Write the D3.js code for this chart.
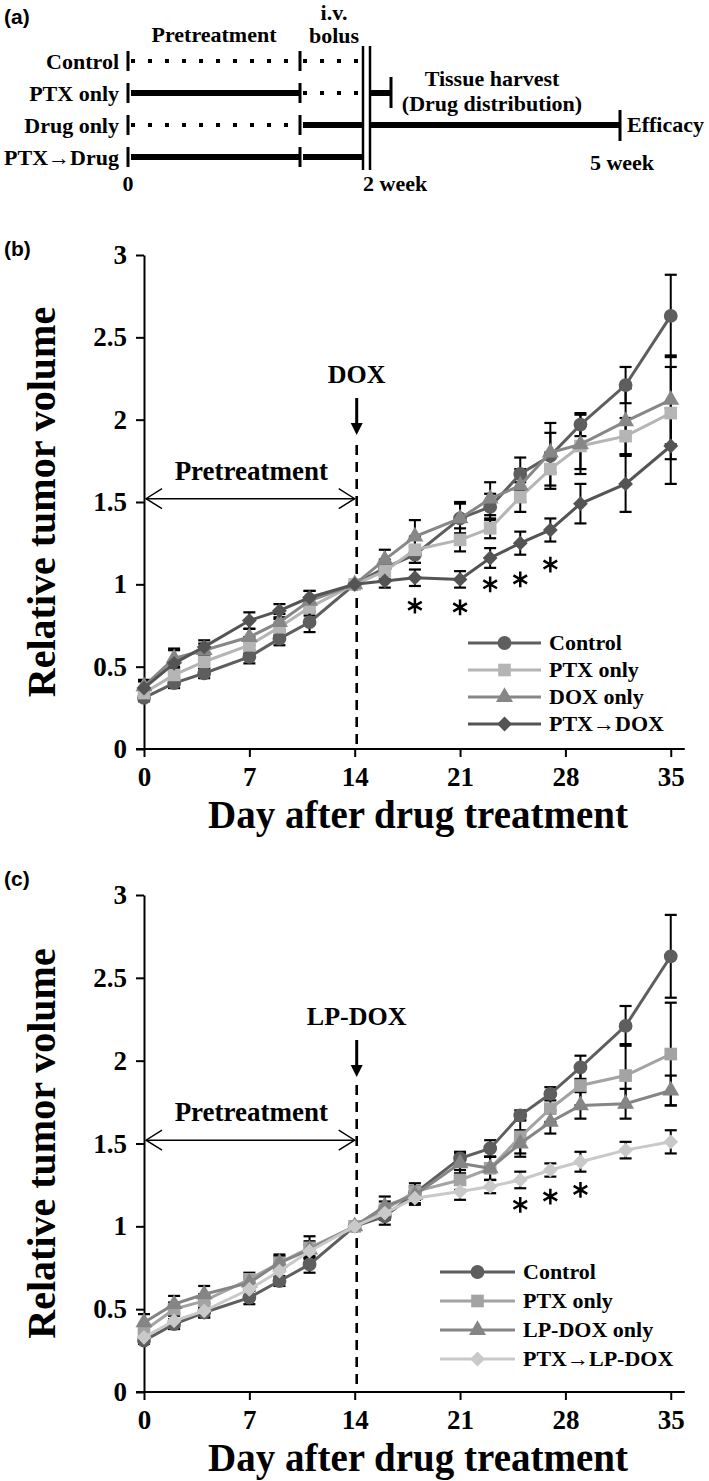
<!DOCTYPE html>
<html><head><meta charset="utf-8">
<script src="https://cdn.jsdelivr.net/npm/d3@7"></script>
<style>body{margin:0;background:#fff}svg{display:block}</style>
</head><body>
<svg id="chart" width="709" height="1481"></svg>
<script>
// ---------- DATA ----------
const days = [0, 2, 4, 7, 9, 11, 14, 16, 18, 21, 23, 25, 27, 29, 32, 35];
const xTicks = [0, 7, 14, 21, 28, 35];
const yTicks = [0, 0.5, 1, 1.5, 2, 2.5, 3];

// panel (b)
const bNames = ["Control", "PTX only", "DOX only", "PTX\u2192DOX"];
const bControl = [0.31, 0.40, 0.46, 0.56, 0.67, 0.77, 1.00, 1.10, 1.18, 1.40, 1.47, 1.67, 1.78, 1.97, 2.21, 2.63];
const bControlErr = [0.02, 0.03, 0.03, 0.04, 0.04, 0.06, 0, 0.05, 0.05, 0.09, 0.08, 0.10, 0.20, 0.07, 0.11, 0.25];
const bPTX = [0.34, 0.45, 0.53, 0.63, 0.74, 0.86, 1.00, 1.08, 1.21, 1.27, 1.34, 1.53, 1.70, 1.84, 1.90, 2.04];
const bPTXErr = [0.03, 0.04, 0.04, 0.05, 0.05, 0.05, 0, 0.05, 0.08, 0.07, 0.06, 0.09, 0.10, 0.14, 0.11, 0.28];
const bDOX = [0.38, 0.55, 0.60, 0.68, 0.77, 0.90, 1.00, 1.15, 1.29, 1.40, 1.52, 1.60, 1.80, 1.85, 1.99, 2.12];
const bDOXErr = [0.04, 0.05, 0.04, 0.05, 0.05, 0.06, 0, 0.06, 0.10, 0.10, 0.10, 0.10, 0.12, 0.18, 0.20, 0.27];
const bPTXDOX = [0.37, 0.52, 0.62, 0.78, 0.84, 0.92, 1.00, 1.02, 1.04, 1.03, 1.16, 1.25, 1.33, 1.49, 1.61, 1.84];
const bPTXDOXErr = [0.04, 0.09, 0.04, 0.05, 0.04, 0.04, 0, 0.04, 0.05, 0.05, 0.06, 0.07, 0.07, 0.12, 0.17, 0.23];
const bStarDays = [18, 21, 23, 25, 27];
const bStarVals = [0.87, 0.86, 1.00, 1.03, 1.12];

// panel (c)
const cNames = ["Control", "PTX only", "LP-DOX only", "PTX\u2192LP-DOX"];
const cControl = [0.31, 0.41, 0.48, 0.57, 0.67, 0.77, 1.00, 1.06, 1.20, 1.41, 1.47, 1.67, 1.80, 1.96, 2.21, 2.63];
const cControlErr = [0.02, 0.03, 0.03, 0.04, 0.03, 0.05, 0, 0.05, 0.04, 0.04, 0.05, 0.03, 0.04, 0.07, 0.12, 0.25];
const cPTX = [0.37, 0.50, 0.55, 0.68, 0.78, 0.87, 1.00, 1.10, 1.21, 1.28, 1.35, 1.54, 1.71, 1.85, 1.91, 2.04];
const cPTXErr = [0.03, 0.04, 0.04, 0.04, 0.04, 0.07, 0, 0.05, 0.05, 0.06, 0.07, 0.10, 0.08, 0.12, 0.19, 0.31];
const cLPDOX = [0.42, 0.53, 0.59, 0.66, 0.78, 0.86, 1.00, 1.12, 1.19, 1.38, 1.35, 1.50, 1.63, 1.73, 1.74, 1.82];
const cLPDOXErr = [0.05, 0.05, 0.05, 0.04, 0.05, 0.05, 0, 0.06, 0.05, 0.06, 0.07, 0.08, 0.07, 0.08, 0.09, 0.09];
const cPTXLP = [0.33, 0.43, 0.49, 0.62, 0.73, 0.85, 1.00, 1.08, 1.17, 1.21, 1.24, 1.28, 1.34, 1.39, 1.46, 1.51];
const cPTXLPErr = [0.03, 0.04, 0.04, 0.04, 0.04, 0.04, 0, 0.04, 0.04, 0.05, 0.04, 0.05, 0.04, 0.06, 0.05, 0.07];
const cStarDays = [25, 27, 29];
const cStarVals = [1.13, 1.18, 1.22];

// panel (a) schematic
const schemeRows = ["Control", "PTX only", "Drug only", "PTX\u2192Drug"];
const schemePre = ["dot", "solid", "dot", "solid"];
const schemeBolus = ["dot", "dot", "solid", "solid"];

// ---------- DRAWING ----------
const SERIF = "'Liberation Serif','Times New Roman',serif";
const SANS = "'Liberation Sans',Arial,sans-serif";
const svg = d3.select("#chart");

// ---- panel (a)
(function () {
  const g = svg.append("g");
  const rowY = d3.scalePoint().domain(schemeRows).range([61, 157]);
  const sx = d3.scaleOrdinal().domain(["start", "iv", "wall1", "wall2", "harvest", "efficacy"])
    .range([128, 300, 363, 370, 391, 620]);
  const seg = (x1, x2, yy, style) => {
    const l = g.append("line").attr("x1", x1).attr("x2", x2).attr("y1", yy).attr("y2", yy)
      .attr("stroke", "#000");
    if (style === "dot") l.attr("stroke-width", 4).attr("stroke-dasharray", "4,13");
    else l.attr("stroke-width", 6);
  };
  g.append("text").attr("x", 4).attr("y", 24).text("(a)")
    .attr("font-family", SANS).attr("font-weight", "bold").attr("font-size", 21);
  schemeRows.forEach((r, i) => {
    const yy = rowY(r);
    g.append("text").attr("x", 119).attr("y", yy + 8).attr("text-anchor", "end").text(r)
      .attr("font-family", SERIF).attr("font-weight", "bold").attr("font-size", 22);
    seg(sx("start") + 3, sx("iv"), yy, schemePre[i]);
    seg(sx("iv") + 3, sx("wall1"), yy, schemeBolus[i]);
  });
  ["start", "iv"].forEach(k => {
    g.append("line").attr("x1", sx(k)).attr("x2", sx(k)).attr("y1", 51).attr("y2", 170)
      .attr("stroke", "#000").attr("stroke-width", 3).attr("stroke-dasharray", "20,12");
  });
  ["wall1", "wall2"].forEach(k => {
    g.append("line").attr("x1", sx(k)).attr("x2", sx(k)).attr("y1", 46).attr("y2", 170)
      .attr("stroke", "#000").attr("stroke-width", 2.5);
  });
  const yH = rowY("PTX only");
  seg(sx("wall2"), sx("harvest"), yH, "solid");
  g.append("line").attr("x1", sx("harvest")).attr("x2", sx("harvest")).attr("y1", yH - 16).attr("y2", yH + 15)
    .attr("stroke", "#000").attr("stroke-width", 3);
  const yE = rowY("Drug only");
  seg(sx("wall2"), sx("efficacy"), yE, "solid");
  g.append("line").attr("x1", sx("efficacy")).attr("x2", sx("efficacy")).attr("y1", yE - 15).attr("y2", yE + 16)
    .attr("stroke", "#000").attr("stroke-width", 3);
  const T = (x, y, s, anchor) => g.append("text").attr("x", x).attr("y", y).text(s)
    .attr("text-anchor", anchor || "middle")
    .attr("font-family", SERIF).attr("font-weight", "bold").attr("font-size", 22);
  T(214, 42, "Pretreatment");
  T(334, 20, "i.v.");
  T(334, 43, "bolus");
  T(492, 86, "Tissue harvest");
  T(492, 111, "(Drug distribution)");
  T(sx("efficacy") + 7, yE + 7, "Efficacy", "start");
  T(622, 170, "5 week");
  T(sx("start"), 191, "0");
  T(sx("wall1"), 191, "2 week", "start");
})();

// ---- panels (b) and (c)
function panel(cfg) {
  const g = svg.append("g");
  const x = d3.scaleLinear().domain([0, 35]).range([144, 670.75]);
  const y = d3.scaleLinear().domain([0, 3]).range([cfg.y0, cfg.y3]);

  // panel label
  g.append("text").attr("x", 4).attr("y", cfg.labelY).text(cfg.label)
    .attr("font-family", SANS).attr("font-weight", "bold").attr("font-size", 21);

  // axes
  const ya = g.append("g").attr("transform", `translate(${x(0)},0)`)
    .call(d3.axisLeft(y).tickValues(yTicks).tickSize(8).tickSizeOuter(0).tickPadding(9).tickFormat(d => String(d)));
  const xa = g.append("g").attr("transform", `translate(0,${y(0)})`)
    .call(d3.axisBottom(x).tickValues(xTicks).tickSize(8).tickSizeOuter(0).tickPadding(10).tickFormat(d => String(d)));
  [ya, xa].forEach(a => {
    a.select(".domain").attr("stroke", "#000").attr("stroke-width", 2);
    a.selectAll(".tick line").attr("stroke", "#000").attr("stroke-width", 2);
    a.selectAll(".tick text").attr("fill", "#000").attr("font-family", SERIF)
      .attr("font-weight", "bold").attr("font-size", 27);
  });
  xa.select(".domain").remove();
  g.append("line").attr("x1", x(0) - 8).attr("x2", x(35) + 14).attr("y1", y(0)).attr("y2", y(0))
    .attr("stroke", "#000").attr("stroke-width", 2);

  // axis titles
  g.append("text").attr("transform", `translate(55,${(y(0) + y(3)) / 2}) rotate(-90)`)
    .attr("text-anchor", "middle").text("Relative tumor volume")
    .attr("font-family", SERIF).attr("font-weight", "bold").attr("font-size", 40);
  g.append("text").attr("x", 418).attr("y", y(0) + 79).attr("text-anchor", "middle")
    .text("Day after drug treatment")
    .attr("font-family", SERIF).attr("font-weight", "bold").attr("font-size", 39);

  // annotation: drug injection at day 14
  const xd = x(14) + 2;
  g.append("line").attr("x1", xd).attr("x2", xd).attr("y1", cfg.dashTop).attr("y2", y(0))
    .attr("stroke", "#000").attr("stroke-width", 2.6).attr("stroke-dasharray", "10,7");
  g.append("text").attr("x", xd).attr("y", cfg.drugY).attr("text-anchor", "middle").text(cfg.drug)
    .attr("font-family", SERIF).attr("font-weight", "bold").attr("font-size", 26);
  g.append("line").attr("x1", xd).attr("x2", xd).attr("y1", cfg.drugY + 15).attr("y2", cfg.drugY + 44)
    .attr("stroke", "#000").attr("stroke-width", 3);
  g.append("path").attr("d", `M${xd - 6},${cfg.drugY + 40}L${xd + 6},${cfg.drugY + 40}L${xd},${cfg.drugY + 52}Z`)
    .attr("fill", "#000");
  // pretreatment double arrow
  const ay = y(1.52);
  g.append("line").attr("x1", x(0) + 2).attr("x2", x(14)).attr("y1", ay).attr("y2", ay)
    .attr("stroke", "#000").attr("stroke-width", 1.4);
  g.append("path").attr("d", `M${x(0) + 18},${ay - 10}L${x(0) + 2},${ay}L${x(0) + 18},${ay + 10}`)
    .attr("fill", "none").attr("stroke", "#000").attr("stroke-width", 1.4);
  g.append("path").attr("d", `M${x(14) - 16},${ay - 10}L${x(14)},${ay}L${x(14) - 16},${ay + 10}`)
    .attr("fill", "none").attr("stroke", "#000").attr("stroke-width", 1.4);
  g.append("text").attr("x", (x(0) + x(14)) / 2 + 2).attr("y", ay - 19).attr("text-anchor", "middle")
    .text("Pretreatment").attr("font-family", SERIF).attr("font-weight", "bold").attr("font-size", 27);

  // error bars
  const eb = g.append("g");
  cfg.series.forEach(s => {
    s.vals.forEach((v, i) => {
      const e = s.err[i];
      if (!e) return;
      const xx = x(days[i]);
      eb.append("line").attr("x1", xx).attr("x2", xx).attr("y1", y(v - e)).attr("y2", y(v + e))
        .attr("stroke", "#000").attr("stroke-width", 2);
      [v - e, v + e].forEach(w => eb.append("line").attr("x1", xx - 6).attr("x2", xx + 6)
        .attr("y1", y(w)).attr("y2", y(w)).attr("stroke", "#000").attr("stroke-width", 2.2));
    });
  });

  // lines + markers
  const line = d3.line().x((d, i) => x(days[i])).y(d => y(d));
  cfg.series.forEach(s => {
    g.append("path").attr("d", line(s.vals)).attr("fill", "none").attr("stroke", s.color).attr("stroke-width", 3);
    g.selectAll(null).data(s.vals).enter().append("path")
      .attr("d", d3.symbol(s.sym.type, s.sym.size))
      .attr("transform", (d, i) => `translate(${x(days[i])},${y(d)}) rotate(${s.sym.rot || 0})`)
      .attr("fill", s.color);
  });

  // significance asterisks
  g.selectAll(null).data(cfg.starDays).enter().append("path")
    .attr("d", d3.symbol(d3.symbolAsterisk, 175))
    .attr("transform", (d, i) => `translate(${x(d)},${y(cfg.starVals[i])})`)
    .attr("stroke", "#000").attr("stroke-width", 2.5).attr("fill", "none");

  // legend
  cfg.series.forEach((s, i) => {
    const ly = cfg.legY + i * cfg.legStep;
    g.append("line").attr("x1", cfg.legX0).attr("x2", cfg.legX1).attr("y1", ly).attr("y2", ly)
      .attr("stroke", s.color).attr("stroke-width", 3);
    g.append("path").attr("d", d3.symbol(s.sym.type, s.sym.size))
      .attr("transform", `translate(${(cfg.legX0 + cfg.legX1) / 2},${ly}) rotate(${s.sym.rot || 0})`)
      .attr("fill", s.color);
    g.append("text").attr("x", cfg.legX1 + 8).attr("y", ly + 7).text(s.name)
      .attr("font-family", SERIF).attr("font-weight", "bold").attr("font-size", 22);
  });
}

const CIRC = { type: d3.symbolCircle, size: 150 };
const SQR = { type: d3.symbolSquare, size: 160 };
const TRI = { type: d3.symbolTriangle, size: 125 };
const DIA = { type: d3.symbolSquare, size: 110, rot: 45 };

panel({
  label: "(b)", labelY: 256, y0: 749, y3: 255, drug: "DOX", drugY: 383, dashTop: 445,
  legX0: 468, legX1: 541, legY: 643, legStep: 27,
  starDays: bStarDays, starVals: bStarVals,
  series: [
    { name: bNames[0], vals: bControl, err: bControlErr, color: "#5e5e5e", sym: CIRC },
    { name: bNames[1], vals: bPTX, err: bPTXErr, color: "#b5b5b5", sym: SQR },
    { name: bNames[2], vals: bDOX, err: bDOXErr, color: "#878787", sym: TRI },
    { name: bNames[3], vals: bPTXDOX, err: bPTXDOXErr, color: "#545454", sym: DIA }
  ]
});
panel({
  label: "(c)", labelY: 886, y0: 1392, y3: 895, drug: "LP-DOX", drugY: 1025, dashTop: 1085,
  legX0: 440, legX1: 515, legY: 1272, legStep: 29,
  starDays: cStarDays, starVals: cStarVals,
  series: [
    { name: cNames[0], vals: cControl, err: cControlErr, color: "#5e5e5e", sym: CIRC },
    { name: cNames[1], vals: cPTX, err: cPTXErr, color: "#a3a3a3", sym: SQR },
    { name: cNames[2], vals: cLPDOX, err: cLPDOXErr, color: "#858585", sym: TRI },
    { name: cNames[3], vals: cPTXLP, err: cPTXLPErr, color: "#c9c9c9", sym: DIA }
  ]
});
</script>
</body></html>
